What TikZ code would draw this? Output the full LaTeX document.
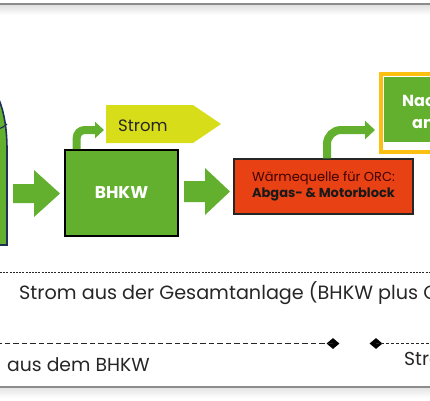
\documentclass[tikz,border=0pt]{standalone}
\usepackage{fontspec}
\setmainfont{Poppins}
\usetikzlibrary{shapes.geometric,calc,arrows.meta}
\definecolor{cgreen}{RGB}{99,176,46}
\definecolor{cyellow}{RGB}{216,221,26}
\definecolor{cred}{RGB}{232,66,20}
\definecolor{corange}{RGB}{252,192,18}
\definecolor{cnavy}{RGB}{30,48,88}
\definecolor{ctext}{RGB}{38,38,38}
\definecolor{cframe}{RGB}{140,140,140}
\tikzset{
  greenbox/.style={draw=black, line width=1.6pt, fill=cgreen, text=white,
    font=\fontsize{17}{20}\selectfont\bfseries, inner sep=0pt},
  redbox/.style={draw=black!85, line width=1.4pt, fill=cred, align=center,
    font=\fontsize{13}{17}\selectfont, inner sep=0pt},
  blockarrow/.style={fill=cgreen},
  bendarrow/.style={draw=cgreen, line width=8pt, rounded corners=8pt,
    -{Triangle[width=16pt,length=9pt]}},
  lbl/.style={text=ctext, font=\fontsize{16.5}{20}\selectfont, inner sep=0pt},
  biglbl/.style={text=ctext, font=\fontsize{19.2}{22}\selectfont, inner sep=0pt},
  tip/.style={diamond, fill=black, inner sep=0pt, minimum width=13pt, minimum height=11pt}
}
\begin{document}
\begin{tikzpicture}[x=1pt,y=-1pt]
\useasboundingbox (0,0) rectangle (430,400);
\clip (0,0) rectangle (430,400);
% frame lines with soft shadow
\shade[top color=black!12, bottom color=white] (0,5) rectangle (430,15);
\draw[cframe, line width=1.6pt] (0,4) -- (430,4);
\shade[top color=black!10, bottom color=white] (0,388) rectangle (430,398);
\draw[cframe, line width=1.6pt] (0,387) -- (430,387);

% left arch shape (cut off)
\draw[cnavy, line width=1.6pt, fill=cgreen]
  (-20,245) -- (7,245) -- (7,150) .. controls (7,128) and (4,110) .. (-3,95) -- (-20,95) -- cycle;
\draw[cnavy, line width=1.2pt] (-2,129) .. controls (2,128) and (5,126) .. (7,124);

% BHKW box
\node[greenbox, minimum width=113pt, minimum height=86pt] (bhkw) at (121.5,193) {BHKW};

% block arrow into BHKW
\fill[blockarrow] (13,184) -- (34,184) -- (34,170) -- (60,193.5) -- (34,217) -- (34,203) -- (13,203) -- cycle;

% Strom signal
\fill[cyellow] (106,105) -- (193,105) -- (221,124) -- (193,143) -- (106,143) -- cycle;
\node[lbl, anchor=base west] (strom) at (118,131) {Strom};
\coordinate (stromin) at (104,130);
\draw[bendarrow] ([xshift=12.5pt]bhkw.north west) |- (stromin);

% block arrow to red box
\fill[blockarrow] (184,181) -- (205,181) -- (205,168) -- (230,191.5) -- (205,215) -- (205,202) -- (184,202) -- cycle;

% red box
\node[redbox, minimum width=179pt, minimum height=55pt] (orc) at (323.5,186.5)
  {\textcolor{black!75!red}{Wärmequelle für ORC:}\\[-1pt]{\bfseries\textcolor{black!90}{Abgas- \& Motorblock}}};

% yellow framed green box (cut off)
\node[draw=corange, line width=4pt, minimum width=100pt, minimum height=78pt, anchor=north west] (frame) at (379,72) {};
\node[fill=cgreen, minimum width=90pt, minimum height=65pt, anchor=north west, inner sep=0pt] (nach) at (384,77) {};
\node[text=white, font=\fontsize{16}{22}\selectfont\bfseries, anchor=base west, align=left, inner sep=0pt] (nachtext) at (402,128)
  {Nachgeschaltete\\\hspace*{10pt}anlage};
\coordinate (nachin) at (375,130);
\draw[bendarrow, rounded corners=14pt, -{Triangle[width=18pt,length=10pt]}] (orc.north -| 327,0) |- (nachin);

% dotted line and label
\coordinate (dl) at (0,272);
\coordinate (dr) at (430,272);
\draw[ctext, line width=0.8pt, dash pattern=on 2pt off 1.2pt] (dl) -- (dr);
\node[biglbl, anchor=base west] (gesamt) at (19,299) {Strom aus der Gesamtanlage (BHKW plus ORC)};

% dashed line with diamonds
\node[tip] (d1) at (333,343.5) {};
\node[tip] (d2) at (376,343.5) {};
\coordinate (el) at (-2,343.5);
\coordinate (er) at (432,343.5);
\draw[ctext, line width=1pt, dash pattern=on 5.5pt off 3pt] (d1.center) -- (el);
\draw[ctext, line width=0.9pt, dash pattern=on 3pt off 2pt] (d2.center) -- (er);
\node[biglbl, font=\fontsize{18.8}{22}\selectfont, anchor=base west] (bhkwstrom) at (7,371) {aus dem BHKW};
\node[biglbl, font=\fontsize{18.8}{22}\selectfont, anchor=base west] (orcstrom) at (404,365) {Strom aus dem ORC};
\end{tikzpicture}
\end{document}
